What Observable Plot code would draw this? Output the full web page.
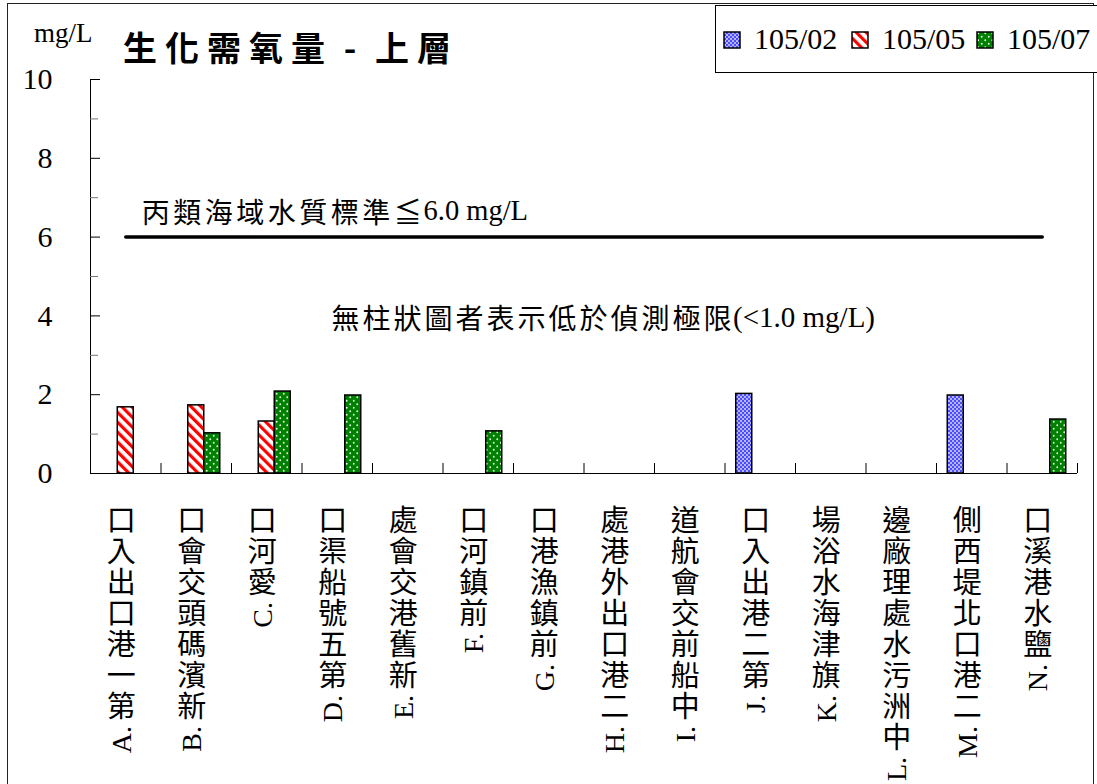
<!DOCTYPE html>
<html><head><meta charset="utf-8">
<script src="https://cdn.jsdelivr.net/npm/d3@7"></script>
<script src="https://cdn.jsdelivr.net/npm/@observablehq/plot@0.6"></script>
<style>
html,body{margin:0;padding:0;background:#fff;overflow:hidden}
#chart{position:relative;width:1097px;height:784px;overflow:hidden}
#chart svg{display:block}
</style></head><body><div id="chart"></div>
<script>
// ---- data ----
const categories = [
  "A. 第一港口出入口","B. 新濱碼頭交會口","C. 愛河口","D. 第五號船渠口","E. 新舊港交會處",
  "F. 前鎮河口","G. 前鎮漁港口","H. 二港口出外港處","I. 中船前交會航道","J. 第二港出入口",
  "K. 旗津海水浴場","L. 中洲污水處理廠邊","M. 二港口北堤西側","N. 鹽水港溪口"
];
const seriesNames = ["105/02","105/05","105/07"];
const v10502 = [null,null,null,null,null,null,null,null,null,2.02,null,null,1.98,null];
const v10505 = [1.68,1.73,1.32,null,null,null,null,null,null,null,null,null,null,null];
const v10507 = [null,1.02,2.08,1.98,null,1.07,null,null,null,null,null,null,null,1.37];
const yTicks = [0,2,4,6,8,10];
const yMinorTicks = [1,3,5,7,9];
const standardValue = 6.0;
const standardLabel = "丙類海域水質標準≦6.0 mg/L";
const noteLabel = "無柱狀圖者表示低於偵測極限(<1.0 mg/L)";
const titleText = "生化需氧量-上層";
const unitText = "mg/L";

// ---- layout ----
const W = 1097, H = 784, mL = 90, mR = 20, mT = 79, mB = 311;
const frameW = W - mL - mR;
const bw = frameW / categories.length;
const barW = 16;
const inset = (bw - barW) / 2;
const offsets = [-16, 0, 16];
const fills = ["url(#pBlue)", "url(#pRed)", "url(#pGreen)"];
const seriesValues = [v10502, v10505, v10507];
const tickLenData = 10 / ((H - mT - mB) / 10);

const chart = Plot.plot({
  width: W, height: H,
  marginLeft: mL, marginRight: mR, marginTop: mT, marginBottom: mB,
  style: {background: "white", fontFamily: "'Liberation Serif', serif", fontSize: "30px", color: "black", overflow: "visible"},
  x: {domain: categories, padding: 0, round: false, axis: null},
  y: {domain: [0, 10], ticks: yTicks, tickSize: 0, tickPadding: 38, line: true, label: null, tickFormat: d => String(d)},
  marks: [
    Plot.tickY(yMinorTicks, {y: d => d, insetRight: frameW - 8, stroke: "#777"}),
    Plot.tickY(yTicks, {y: d => d, insetRight: frameW - 10, stroke: "black"}),
    Plot.ruleX(categories.slice(1), {x: d => d, dx: -bw / 2, y1: 0, y2: tickLenData, stroke: "black"}),
    Plot.ruleX(categories.slice(-1), {x: d => d, dx: bw / 2, y1: 0, y2: tickLenData, stroke: "black"}),
    ...seriesValues.map((vals, s) => Plot.barY(categories, {
      x: d => d, y: (d, i) => vals[i], dx: offsets[s],
      insetLeft: inset, insetRight: inset,
      fill: fills[s], stroke: "black", strokeWidth: 1.5
    })),
    Plot.ruleY([0], {stroke: "black"}),
    Plot.line([categories[0], categories[categories.length - 1]], {x: d => d, y: () => standardValue, stroke: "black", strokeWidth: 3.5})
  ]
});
document.getElementById("chart").appendChild(chart);

const svg = d3.select(chart);
// ---- patterns ----
const defs = svg.insert("defs", ":first-child");
const pb = defs.append("pattern").attr("id", "pBlue").attr("patternUnits", "userSpaceOnUse").attr("width", 4).attr("height", 4);
pb.append("rect").attr("width", 4).attr("height", 4).attr("fill", "#4b4bff");
pb.append("rect").attr("width", 2).attr("height", 2).attr("fill", "#b4b4ff");
pb.append("rect").attr("x", 2).attr("y", 2).attr("width", 2).attr("height", 2).attr("fill", "#b4b4ff");
const pr = defs.append("pattern").attr("id", "pRed").attr("patternUnits", "userSpaceOnUse").attr("width", 7).attr("height", 7).attr("patternTransform", "rotate(-45)");
pr.append("rect").attr("width", 7).attr("height", 7).attr("fill", "white");
pr.append("rect").attr("width", 3.2).attr("height", 7).attr("fill", "#ff0000");
const pg = defs.append("pattern").attr("id", "pGreen").attr("patternUnits", "userSpaceOnUse").attr("width", 7).attr("height", 7);
pg.append("rect").attr("width", 7).attr("height", 7).attr("fill", "#008000");
pg.append("circle").attr("cx", 1.75).attr("cy", 1.75).attr("r", 0.9).attr("fill", "#e8ffe8");
pg.append("circle").attr("cx", 5.25).attr("cy", 5.25).attr("r", 0.9).attr("fill", "#e8ffe8");

// ---- text helpers ----
const CJK = "'Noto Sans CJK TC', 'Noto Sans CJK SC', sans-serif";
const LAT = "'Liberation Serif', serif";
const cjkClass = "\\u2E80-\\u9FFF\\uF900-\\uFAFF\\uFF00-\\uFFEF\\u2266\\u2267";
const isCJK = ch => new RegExp("[" + cjkClass + "]").test(ch);
const over = svg.append("g").attr("text-anchor", "start");
function measure(txt, size) {
  const t = over.append("text").attr("font-family", LAT).attr("font-size", size).text(txt);
  const w = t.node().getComputedTextLength(); t.remove(); return w;
}
function drawMixed(g, str, x, y, o) {
  let cx = x; let buf = "";
  const flush = () => {
    if (!buf) return;
    g.append("text").attr("x", cx).attr("y", y).attr("text-anchor", "start").attr("font-family", LAT).attr("font-size", o.lat)
      .attr("dominant-baseline", "central").attr("fill", "black").text(buf);
    cx += measure(buf, o.lat); buf = "";
  };
  for (const ch of str) {
    if (isCJK(ch) || o.allCells) {
      flush();
      g.append("text").attr("x", cx + o.pitch / 2).attr("y", y).attr("text-anchor", "middle")
        .attr("dominant-baseline", "central").attr("font-family", CJK).attr("font-size", o.cjk)
        .attr("font-weight", o.weight || 400).attr("fill", "black").text(ch);
      cx += o.pitch;
    } else buf += ch;
  }
  flush();
}

// ---- frame & legend ----
over.append("rect").attr("x", 7.5).attr("y", 3.5).attr("width", 1086).attr("height", 820)
  .attr("fill", "none").attr("stroke", "#222").attr("stroke-width", 1);
over.append("rect").attr("x", 715.5).attr("y", 5.5).attr("width", 420).attr("height", 67)
  .attr("fill", "white").attr("stroke", "black").attr("stroke-width", 1);
const legendX = [724, 852, 977];
seriesNames.forEach((name, s) => {
  over.append("rect").attr("x", legendX[s]).attr("y", 32).attr("width", 16).attr("height", 16)
    .attr("fill", fills[s]).attr("stroke", "black").attr("stroke-width", 1.5);
  over.append("text").attr("x", legendX[s] + 30).attr("y", 49).attr("text-anchor", "start").attr("font-family", LAT)
    .attr("font-size", 30).attr("fill", "black").text(name);
});

// ---- title & unit ----
over.append("text").attr("x", 34).attr("y", 42).attr("text-anchor", "start").attr("font-family", LAT).attr("font-size", 27).attr("fill", "black").text(unitText);
drawMixed(over, titleText, 119, 46, {cjk: 34, lat: 34, pitch: 42, weight: 700, allCells: true});

// ---- annotations ----
const ys = chart.scale("y");
drawMixed(over, standardLabel, 140, ys.apply(6.65), {cjk: 28, lat: 28.5, pitch: 31.5});
drawMixed(over, noteLabel, 330, ys.apply(3.95), {cjk: 28, lat: 29, pitch: 31});

// ---- vertical x labels (read bottom to top, CJK upright) ----
const xs = chart.scale("x");
const labelTop = 502, pitchV = 31, latGap = 7;
const splitRe = new RegExp("^([^" + cjkClass + "]*)(.*)$");
categories.forEach(cat => {
  const cx = xs.apply(cat) + xs.bandwidth / 2 - 4;
  const [, prefix, rest] = cat.match(splitRe);
  const chars = Array.from(rest);
  const n = chars.length;
  over.append("text")
    .attr("x", chars.map(() => cx.toFixed(2)).join(" "))
    .attr("y", chars.map((c, k) => (labelTop + (n - 1 - k) * pitchV + pitchV / 2).toFixed(2)).join(" "))
    .attr("text-anchor", "middle").attr("dominant-baseline", "central")
    .attr("font-family", CJK).attr("font-size", 29).attr("fill", "black").text(rest);
  const yLat = labelTop + n * pitchV + latGap;
  over.append("text").attr("transform", `translate(${cx},${yLat}) rotate(-90)`)
    .attr("text-anchor", "end").attr("dominant-baseline", "central")
    .attr("font-family", LAT).attr("font-size", 28).attr("fill", "black").text(prefix.trim());
});
</script></body></html>
